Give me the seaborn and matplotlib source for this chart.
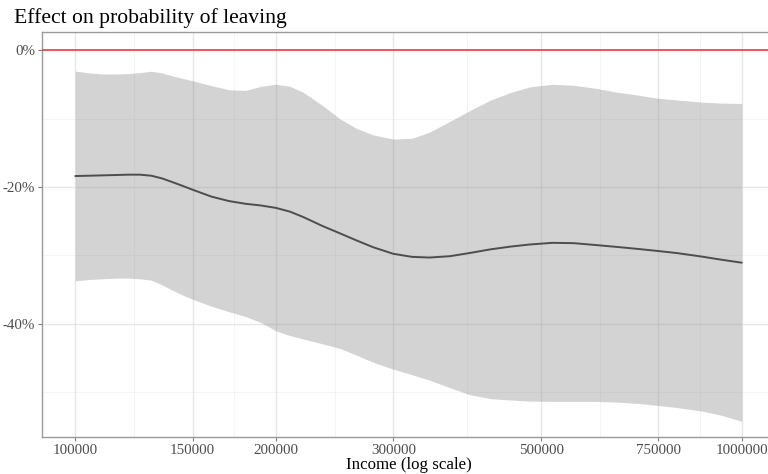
import numpy as np
import pandas as pd
import matplotlib
matplotlib.use("Agg")
import matplotlib.pyplot as plt
from matplotlib.ticker import FixedLocator, FuncFormatter, NullFormatter
import seaborn as sns

# Estimated effect of income on probability of leaving (percent), with 95% band
income = [100000, 105000, 110000, 115000, 120000, 125000, 130000, 135000,
          140000, 145000, 150000, 160000, 170000, 180000, 190000, 200000,
          210000, 220000, 235000, 250000, 265000, 280000, 300000, 320000,
          340000, 365000, 390000, 420000, 450000, 480000, 520000, 560000,
          600000, 650000, 700000, 750000, 800000, 870000, 930000, 1000000]
effect = [-18.4, -18.35, -18.3, -18.25, -18.2, -18.2, -18.35, -18.75,
          -19.3, -19.85, -20.4, -21.4, -22.05, -22.45, -22.7, -23.05,
          -23.6, -24.4, -25.7, -26.8, -27.85, -28.8, -29.75, -30.2,
          -30.3, -30.1, -29.65, -29.1, -28.7, -28.4, -28.15, -28.2,
          -28.45, -28.75, -29.05, -29.35, -29.65, -30.15, -30.6, -31.05]
upper = [-3.07, -3.35, -3.5, -3.5, -3.45, -3.3, -3.1, -3.35,
         -3.8, -4.15, -4.5, -5.2, -5.8, -5.9, -5.3, -5.0,
         -5.3, -6.2, -8.1, -10.1, -11.5, -12.4, -13.0, -12.9,
         -12.0, -10.4, -8.9, -7.3, -6.2, -5.4, -5.0, -5.15,
         -5.55, -6.15, -6.6, -7.05, -7.3, -7.6, -7.75, -7.8]
lower = [-33.7, -33.5, -33.4, -33.3, -33.3, -33.4, -33.6, -34.3,
         -35.1, -35.8, -36.4, -37.4, -38.2, -38.9, -39.8, -41.0,
         -41.7, -42.2, -42.9, -43.6, -44.6, -45.6, -46.6, -47.4,
         -48.2, -49.3, -50.3, -50.9, -51.1, -51.25, -51.3, -51.3,
         -51.3, -51.4, -51.6, -51.9, -52.2, -52.7, -53.3, -54.2]

x_breaks = [100000, 150000, 200000, 300000, 500000, 750000, 1000000]
y_breaks = [0, -20, -40]
y_minor = [-10, -30, -50]

df = pd.DataFrame({"income": income, "effect": effect,
                   "upper": upper, "lower": lower})

sns.set_theme(style="white")
plt.rcParams["font.family"] = ["Liberation Serif", "DejaVu Serif"]

fig = plt.figure(figsize=(7.68, 4.74), dpi=100)
W, H = 768, 474
ax = fig.add_axes([42 / W, 1 - 437 / H, (775 - 42) / W, (437 - 32) / H])

ax.set_xscale("log")
ax.set_xlim(10 ** 4.95, 10 ** 6.05)
ax.set_ylim(-56.5, 2.63)

# minor x breaks sit halfway (in log space) between neighbouring majors
x_minor = [np.sqrt(a * b) for a, b in zip(x_breaks[:-1], x_breaks[1:])]

for v in x_minor:
    ax.axvline(v, color="#f3f3f3", lw=0.6, zorder=0)
for v in y_minor:
    ax.axhline(v, color="#f3f3f3", lw=0.6, zorder=0)
for v in x_breaks:
    ax.axvline(v, color="#e6e6e6", lw=1.0, zorder=0)
for v in y_breaks:
    ax.axhline(v, color="#e6e6e6", lw=1.0, zorder=0)

ax.fill_between(df["income"], df["lower"], df["upper"],
                color="#999999", alpha=0.43, lw=0, zorder=1)
sns.lineplot(data=df, x="income", y="effect", color="#4d4d4d",
             lw=1.4, ax=ax, zorder=2)
ax.axhline(0, color="#f03c3c", lw=1.2, zorder=3)

ax.xaxis.set_major_locator(FixedLocator(x_breaks))
ax.xaxis.set_minor_locator(FixedLocator([]))
ax.xaxis.set_major_formatter(FuncFormatter(lambda v, p: f"{int(round(v))}"))
ax.xaxis.set_minor_formatter(NullFormatter())
ax.yaxis.set_major_locator(FixedLocator(y_breaks))
ax.yaxis.set_major_formatter(FuncFormatter(lambda v, p: f"{int(round(v))}%"))

ax.tick_params(axis="both", which="major", length=3, width=0.8,
               color="#7f7f7f", labelsize=10.8, labelcolor="#4d4d4d",
               pad=2, bottom=True, left=True)

for side in ["left", "bottom", "top", "right"]:
    ax.spines[side].set_color("#9a9a9a")
    ax.spines[side].set_linewidth(1.0)

ax.set_xlabel("Income (log scale)", fontsize=12.2, color="black", labelpad=0)
ax.set_ylabel("")
ax.grid(False)

fig.text(14 / W, 1 - 23 / H, "Effect on probability of leaving",
         fontsize=15.6, color="black", ha="left", va="baseline")

fig.savefig("out.png", dpi=100)
